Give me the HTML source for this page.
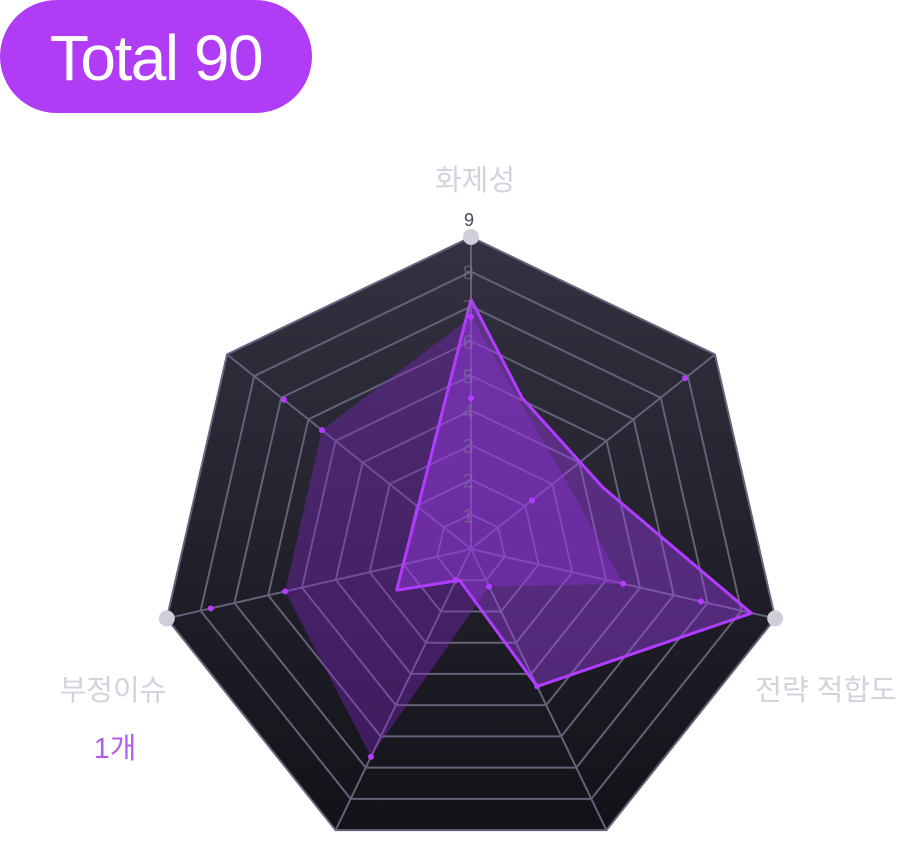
<!DOCTYPE html>
<html><head><meta charset="utf-8">
<style>
html,body{margin:0;padding:0;background:#fff;}
body{width:906px;height:861px;position:relative;overflow:hidden;font-family:"Liberation Sans","Noto Sans CJK KR",sans-serif;}
#badge{position:absolute;left:0;top:0;width:312px;height:113px;border-radius:57px;background:#b03df5;color:#fff;font-size:64px;line-height:116px;text-align:center;letter-spacing:-1.5px;}
svg{position:absolute;left:0;top:0;}
</style></head><body>
<div id="badge">Total 90</div>
<svg id="chart" width="906" height="861">
<defs><linearGradient id="bg" x1="0" y1="0" x2="0" y2="1"><stop offset="0" stop-color="#343241"/><stop offset="1" stop-color="#121218"/></linearGradient></defs>
</svg>
<script>
const axisLabels=["화제성","","전략 적합도","","","부정이슈",""];
const levelTicks=[1,2,3,4,5,6,7,8,9];
const outerDots=[6.7,7.9,6.8,4.4,6.65,7.7,6.9];
const innerDots=[4.35,2.25,4.5,1.2,1.0,5.5,5.5];
const fillValues=[6.7,3.4,4.5,1.2,6.65,5.5,5.5];
const strokeAngles=[0,18.7,65,102.9,154.3,200,241];
const strokeValues=[7.2,4.6,4.2,8.3,4.4,0.96,2.45];
const highlightAxes=[0,2,5];

const NS="http://www.w3.org/2000/svg";
const svgEl=document.getElementById('chart');
const cx=471,cy=549,R=312,maxV=9,N=7;
function pt(angleDeg,v){const a=angleDeg*Math.PI/180;const r=v/maxV*R;return [cx+r*Math.sin(a),cy-r*Math.cos(a)];}
function axisAngle(i){return i*360/N;}
function mk(tag,attrs){const e=document.createElementNS(NS,tag);for(const k in attrs)e.setAttribute(k,attrs[k]);svgEl.appendChild(e);return e;}
function polyStr(vals,angles){return vals.map((v,i)=>pt(angles?angles[i]:axisAngle(i),v).join(',')).join(' ');}

const bgp=mk('polygon',{points:polyStr(Array(N).fill(maxV)),fill:'url(#bg)',stroke:'#66647c','stroke-width':2});


levelTicks.slice(0,-1).forEach(l=>{
  const g=mk('polygon',{points:polyStr(Array(N).fill(l)),fill:'none',stroke:'#64627a','stroke-width':2});
  
  
});
for(let i=0;i<N;i++){const p=pt(axisAngle(i),maxV);
  const s=mk('line',{x1:cx,y1:cy,x2:p[0],y2:p[1],stroke:'#64627a','stroke-width':2});
  
  
}
const f1=mk('polygon',{points:polyStr(fillValues),fill:'rgba(135,40,210,0.36)',stroke:'none'});


const f2=mk('polygon',{points:polyStr(strokeValues,strokeAngles),fill:'rgba(160,60,240,0.42)',stroke:'#b03cff','stroke-width':3,'stroke-linejoin':'round'});


levelTicks.slice(0,-1).forEach(l=>{const p=pt(0,l);
  const t=mk('text',{x:p[0]-3,y:p[1]+8,'text-anchor':'middle','font-size':20,fill:'rgba(130,125,150,0.55)'});
  t.textContent=l;
  
  
});
const topPt=pt(0,maxV);
const t9=mk('text',{x:topPt[0]-2,y:topPt[1]-11,'text-anchor':'middle','font-size':18,fill:'#4a4858'});
t9.textContent=levelTicks[levelTicks.length-1];


[outerDots,innerDots].forEach((arr)=>arr.forEach((v,i)=>{const p=pt(axisAngle(i),v);
  const d=mk('circle',{cx:p[0],cy:p[1],r:3,fill:'#b43cff'});
  
  
}));
highlightAxes.forEach(i=>{const p=pt(axisAngle(i),maxV);
  const c=mk('circle',{cx:p[0],cy:p[1],r:8,fill:'#d0ced8'});
  
  
});
const labelPos=[[475,190,'middle'],null,[826,700,'middle'],null,null,[113,700,'middle'],null];
axisLabels.forEach((s,i)=>{if(!s)return;const lp=labelPos[i];
  const t=mk('text',{x:lp[0],y:lp[1],'text-anchor':lp[2],'font-size':29,fill:'#d4d2dc'});
  t.textContent=s;
  
  
});
const c1=mk('text',{x:115,y:758,'text-anchor':'middle','font-size':29,fill:'#b35cf0'});
c1.textContent='1개';


</script>
</body></html>
